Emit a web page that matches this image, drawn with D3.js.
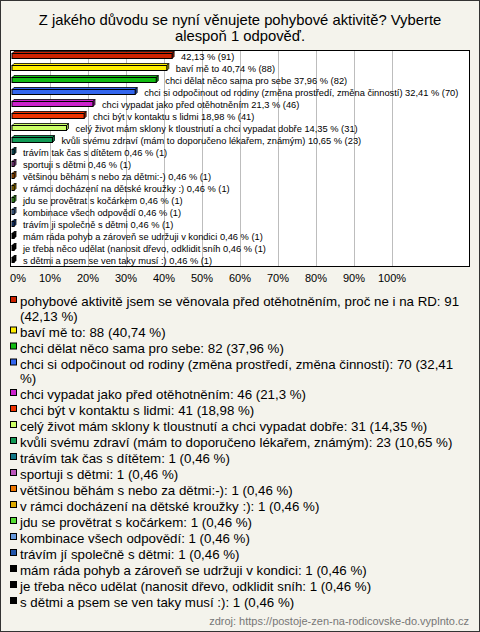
<!DOCTYPE html>
<html><head><meta charset="utf-8">
<script src="https://cdn.jsdelivr.net/npm/d3@7"></script>
<style>body{margin:0;background:#fff}svg{display:block}</style>
</head><body>
<script>
const title = ["Z jakého důvodu se nyní věnujete pohybové aktivitě? Vyberte", "alespoň 1 odpověď."];
const barLabels = ["", "baví mě to", "chci dělat něco sama pro sebe", "chci si odpočinout od rodiny (změna prostředí, změna činností)", "chci vypadat jako před otěhotněním", "chci být v kontaktu s lidmi", "celý život mám sklony k tloustnutí a chci vypadat dobře", "kvůli svému zdraví (mám to doporučeno lékařem, známým)", "trávím tak čas s dítětem", "sportuji s dětmi", "většinou běhám s nebo za dětmi:-)", "v rámci docházení na dětské kroužky :)", "jdu se provětrat s kočárkem", "kombinace všech odpovědí", "trávím ji společně s dětmi", "mám ráda pohyb a zároveň se udržuji v kondici", "je třeba něco udělat (nanosit dřevo, odklidit sníh", "s dětmi a psem se ven taky musí :)"];
const legendLabels = ["pohybové aktivitě jsem se věnovala před otěhotněním, proč ne i na RD", "baví mě to", "chci dělat něco sama pro sebe", "chci si odpočinout od rodiny (změna prostředí, změna činností)", "chci vypadat jako před otěhotněním", "chci být v kontaktu s lidmi", "celý život mám sklony k tloustnutí a chci vypadat dobře", "kvůli svému zdraví (mám to doporučeno lékařem, známým)", "trávím tak čas s dítětem", "sportuji s dětmi", "většinou běhám s nebo za dětmi:-)", "v rámci docházení na dětské kroužky :)", "jdu se provětrat s kočárkem", "kombinace všech odpovědí", "trávím jí společně s dětmi", "mám ráda pohyb a zároveň se udržuji v kondici", "je třeba něco udělat (nanosit dřevo, odklidit sníh", "s dětmi a psem se ven taky musí :)"];
const counts = [91, 88, 82, 70, 46, 41, 31, 23, 1, 1, 1, 1, 1, 1, 1, 1, 1, 1];
const percents = [42.13, 40.74, 37.96, 32.41, 21.3, 18.98, 14.35, 10.65, 0.46, 0.46, 0.46, 0.46, 0.46, 0.46, 0.46, 0.46, 0.46, 0.46];
const colors = ["#cc2200", "#ffee00", "#11bb11", "#3366ee", "#cc22cc", "#ee3300", "#ccff66", "#119955", "#117788", "#bb55bb", "#ee7700", "#ddaa00", "#55dd33", "#6699dd", "#2255aa", "#000000", "#000000", "#000000"];
const xTicks = [0, 10, 20, 30, 40, 50, 60, 70, 80, 90, 100];
const source = "zdroj: https://postoje-zen-na-rodicovske-do.vyplnto.cz";

const W = 480, H = 632;
const fmt = v => String(v).replace(".", ",");
const svg = d3.select("body").append("svg").attr("width", W).attr("height", H)
  .style("font-family", "'Liberation Sans', Arial, sans-serif");
svg.append("rect").attr("x", 0.5).attr("y", 0.5).attr("width", W - 1).attr("height", H - 1)
  .attr("fill", "#f4f3ec").attr("stroke", "#333");

// title
svg.append("text").attr("x", 240).attr("text-anchor", "middle").attr("font-size", 14.8).attr("fill", "#000")
  .selectAll("tspan").data(title).join("tspan").attr("x", 240).attr("y", (d, i) => 25 + i * 16).text(d => d);

const plot = {x0: 10.5, y0: 50.5, x1: 469.5, y1: 266.5};
const x = d3.scaleLinear().domain([0, 100]).range([12, 392]);
const y = d3.scaleBand().domain(d3.range(counts.length)).range([50, 266]);

svg.append("rect").attr("x", plot.x0).attr("y", plot.y0).attr("width", plot.x1 - plot.x0).attr("height", plot.y1 - plot.y0)
  .attr("fill", "#fff");
svg.append("g").selectAll("line").data(xTicks.filter(t => t > 0)).join("line")
  .attr("x1", d => Math.round(x(d)) + 0.5).attr("x2", d => Math.round(x(d)) + 0.5)
  .attr("y1", plot.y0).attr("y2", plot.y1).attr("stroke", "#bdbdbd");

// bars (3D look)
const dep = 2;
const bars = svg.append("g").selectAll("g").data(percents).join("g");
bars.each(function (p, i) {
  const g = d3.select(this);
  const x0 = x(0), x1 = Math.max(x(p), x0 + 2);
  const cy = y(i) + y.bandwidth() / 2;
  const top = cy - 2.5, h = 5;
  g.append("path").attr("d", `M${x0},${top} L${x0 + dep},${top - dep} L${x1 + dep},${top - dep} L${x1},${top} Z`)
    .attr("fill", colors[i]).attr("stroke", "#000").attr("stroke-width", 0.8);
  g.append("path").attr("d", `M${x1},${top} L${x1 + dep},${top - dep} L${x1 + dep},${top + h - dep} L${x1},${top + h} Z`)
    .attr("fill", d3.color(colors[i]).darker(0.8)).attr("stroke", "#000").attr("stroke-width", 0.8);
  g.append("rect").attr("x", x0).attr("y", top).attr("width", x1 - x0).attr("height", h)
    .attr("fill", colors[i]).attr("stroke", "#000").attr("stroke-width", 1);
  const lab = (barLabels[i] ? barLabels[i] + " " : "") + fmt(p) + " % (" + counts[i] + ")";
  g.append("text").attr("x", x1 + 9).attr("y", cy + 3.5).attr("font-size", 9.3).attr("fill", "#000").text(lab);
});

svg.append("rect").attr("x", plot.x0).attr("y", plot.y0).attr("width", plot.x1 - plot.x0).attr("height", plot.y1 - plot.y0)
  .attr("fill", "none").attr("stroke", "#000");

// axis labels
svg.append("g").selectAll("text").data(xTicks).join("text")
  .attr("x", d => d === 0 ? x(d) + 6 : x(d)).attr("y", 282).attr("text-anchor", "middle")
  .attr("font-size", 11).attr("fill", "#000").text(d => d + "%");

// legend
const maxW = 447;
let ly = 306;
const lg = svg.append("g");
counts.forEach((c, i) => {
  const txt = legendLabels[i] + ": " + c + " (" + fmt(percents[i]) + " %)";
  lg.append("rect").attr("x", 10.5).attr("y", ly - 9.5).attr("width", 6).attr("height", 6)
    .attr("fill", colors[i]).attr("stroke", "#000");
  const t = lg.append("text").attr("x", 20).attr("y", ly).attr("font-size", 13.3).attr("fill", "#000");
  const words = txt.split(" ");
  let line = [], tsp = t.append("tspan").attr("x", 20).attr("y", ly);
  let lines = 1;
  words.forEach(w => {
    line.push(w);
    tsp.text(line.join(" "));
    if (tsp.node().getComputedTextLength() > maxW && line.length > 1) {
      line.pop(); tsp.text(line.join(" "));
      line = [w];
      tsp = t.append("tspan").attr("x", 20).attr("y", ly + lines * 14.5).text(w);
      lines++;
    }
  });
  ly += 16 + (lines - 1) * 14.5;
});

svg.append("text").attr("x", 469).attr("y", 625).attr("text-anchor", "end").attr("font-size", 11)
  .attr("fill", "#777").text(source);
</script>
</body></html>
